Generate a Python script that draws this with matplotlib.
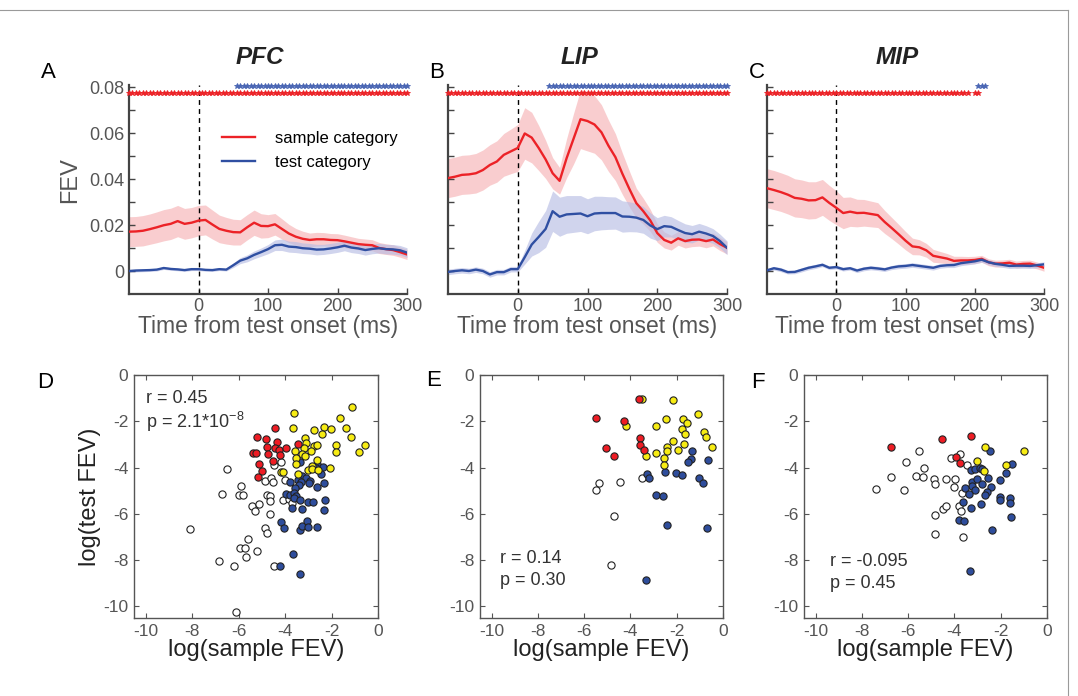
import numpy as np
import matplotlib
matplotlib.use('Agg')
import matplotlib.pyplot as plt
from matplotlib.lines import Line2D

plt.rcParams['font.family'] = ['Liberation Sans', 'DejaVu Sans']
plt.rcParams['mathtext.fontset'] = 'custom'
plt.rcParams['mathtext.rm'] = 'Liberation Sans'
plt.rcParams['mathtext.default'] = 'regular'

# ---------------- data: time courses (FEV) ----------------
time_ms = list(range(-100, 301, 10))

pfc_sample = [0.0171, 0.0172, 0.0175, 0.0182, 0.019, 0.0199, 0.0205, 0.0217, 0.0205, 0.021,
              0.0219, 0.0222, 0.0202, 0.0183, 0.0175, 0.0169, 0.0168, 0.019, 0.021, 0.0196,
              0.0195, 0.0203, 0.0183, 0.0163, 0.0149, 0.014, 0.0135, 0.0138, 0.0138, 0.0135,
              0.0134, 0.0129, 0.0123, 0.0117, 0.0114, 0.0112, 0.0100, 0.0095, 0.0091, 0.0082, 0.0072]
pfc_sample_sem = [0.0065, 0.0065, 0.0066, 0.0066, 0.0067, 0.0068, 0.0068, 0.0068, 0.0067, 0.0066,
                  0.0066, 0.0065, 0.0063, 0.006, 0.0058, 0.0056, 0.0055, 0.0055, 0.0055, 0.0053,
                  0.005, 0.0047, 0.0044, 0.004, 0.0036, 0.0033, 0.003, 0.003, 0.0029, 0.0028,
                  0.0028, 0.0027, 0.0026, 0.0025, 0.0025, 0.0024, 0.0024, 0.0023, 0.0023, 0.0022, 0.0022]
pfc_test = [0.0, 0.0002, 0.0003, 0.0004, 0.0006, 0.0013, 0.0009, 0.0007, 0.0004, 0.0008,
            0.0008, 0.0005, 0.0004, 0.0008, 0.0006, 0.0025, 0.0045, 0.0055, 0.007, 0.0082,
            0.0095, 0.0112, 0.0114, 0.0106, 0.0104, 0.0099, 0.0097, 0.0093, 0.0094, 0.0098,
            0.0103, 0.011, 0.0102, 0.0098, 0.0091, 0.0096, 0.0099, 0.0095, 0.0094, 0.009, 0.008]
pfc_test_sem = [0.0006, 0.0006, 0.0006, 0.0006, 0.0006, 0.0006, 0.0006, 0.0006, 0.0006, 0.0006,
                0.0006, 0.0006, 0.0006, 0.0006, 0.0006, 0.001, 0.0013, 0.0015, 0.0017, 0.0018,
                0.002, 0.0023, 0.0025, 0.0024, 0.0024, 0.0023, 0.0023, 0.0023, 0.0022, 0.0022,
                0.0022, 0.0022, 0.0022, 0.0022, 0.0022, 0.0021, 0.0021, 0.0021, 0.0021, 0.0021, 0.0021]

lip_sample = [0.0404, 0.041, 0.0418, 0.042, 0.0425, 0.0439, 0.0461, 0.0476, 0.0505, 0.052,
              0.0535, 0.0598, 0.058, 0.0535, 0.0485, 0.0425, 0.0392, 0.049, 0.0575, 0.066,
              0.0652, 0.0637, 0.0603, 0.0545, 0.0495, 0.0423, 0.0357, 0.0295, 0.026, 0.022,
              0.0165, 0.0135, 0.0123, 0.0142, 0.013, 0.0136, 0.0137, 0.013, 0.0137, 0.0117, 0.0101]
lip_sample_sem = [0.0085, 0.0085, 0.0085, 0.0085, 0.0086, 0.0087, 0.0088, 0.009, 0.0093, 0.0097,
                  0.0102, 0.0112, 0.011, 0.0098, 0.0083, 0.0068, 0.0058, 0.0085, 0.011, 0.0128,
                  0.013, 0.0125, 0.012, 0.0112, 0.0102, 0.009, 0.0078, 0.0065, 0.0056, 0.0048,
                  0.004, 0.0035, 0.0032, 0.003, 0.003, 0.003, 0.0029, 0.0029, 0.0028, 0.0028, 0.0027]
lip_test = [-0.0004, 0.0, 0.0003, 0.0, 0.0006, 0.0, -0.0015, -0.0005, -0.0005, 0.0008,
            0.0008, 0.006, 0.0115, 0.0148, 0.0183, 0.026, 0.0236, 0.0246, 0.0248, 0.025,
            0.0238, 0.025, 0.0252, 0.0252, 0.0252, 0.0237, 0.0236, 0.0232, 0.0222, 0.0198,
            0.0182, 0.0195, 0.0192, 0.0178, 0.0165, 0.016, 0.0171, 0.0163, 0.0152, 0.013, 0.0101]
lip_test_sem = [0.0012, 0.0012, 0.0012, 0.0012, 0.0012, 0.0012, 0.0012, 0.0012, 0.0012, 0.0012,
                0.0012, 0.003, 0.005, 0.0068, 0.008, 0.0088, 0.0085, 0.0082, 0.008, 0.0078,
                0.0076, 0.0075, 0.0073, 0.0071, 0.007, 0.0068, 0.0065, 0.0062, 0.0058, 0.0055,
                0.005, 0.0047, 0.0044, 0.0042, 0.004, 0.0038, 0.0036, 0.0034, 0.0032, 0.003, 0.003]

mip_sample = [0.036, 0.0352, 0.0343, 0.0332, 0.0318, 0.0314, 0.0307, 0.0308, 0.032, 0.0296,
              0.0275, 0.0252, 0.0258, 0.0252, 0.0253, 0.0248, 0.0243, 0.0213, 0.0187, 0.016,
              0.0132, 0.0107, 0.0103, 0.009, 0.0066, 0.006, 0.0054, 0.0044, 0.0046, 0.0046,
              0.0048, 0.0053, 0.0038, 0.0032, 0.0033, 0.0036, 0.0028, 0.0031, 0.0032, 0.0024, 0.0014]
mip_sample_sem = [0.0085, 0.0085, 0.0084, 0.0084, 0.0083, 0.0082, 0.0081, 0.008, 0.0078, 0.0076,
                  0.0074, 0.0068, 0.0064, 0.006, 0.0058, 0.0056, 0.0054, 0.005, 0.0046, 0.0043,
                  0.004, 0.0036, 0.0033, 0.003, 0.0028, 0.0025, 0.0022, 0.002, 0.0018, 0.0017,
                  0.0016, 0.0015, 0.0015, 0.0015, 0.0015, 0.0015, 0.0015, 0.0015, 0.0015, 0.0015, 0.0015]
mip_test = [0.0003, 0.0012, 0.0006, -0.0005, -0.0004, 0.0005, 0.0014, 0.002, 0.0027, 0.0014,
            0.0017, 0.0008, 0.0012, 0.0002, 0.001, 0.0014, 0.0011, 0.0007, 0.0015, 0.002,
            0.0022, 0.0026, 0.0022, 0.0018, 0.0014, 0.0022, 0.0025, 0.0026, 0.0034, 0.0038,
            0.0042, 0.0049, 0.0038, 0.0031, 0.0027, 0.0022, 0.0023, 0.0023, 0.0022, 0.0025, 0.0029]
mip_test_sem = [0.0008, 0.0008, 0.0009, 0.0008, 0.0008, 0.0009, 0.0009, 0.0009, 0.0008, 0.0008,
                0.0008, 0.0008, 0.0008, 0.0009, 0.0009, 0.0009, 0.0009, 0.0009, 0.0009, 0.001,
                0.001, 0.001, 0.001, 0.001, 0.001, 0.001, 0.001, 0.0011, 0.0011, 0.0011,
                0.0011, 0.0011, 0.0011, 0.0011, 0.0011, 0.0011, 0.0011, 0.0011, 0.0011, 0.0011, 0.0011]

# significance periods (ms, inclusive), marked every 5 ms
pfc_sample_sig = [(-100, 300)]
pfc_test_sig = [(55, 300)]
lip_sample_sig = [(-100, 300)]
lip_test_sig = [(45, 300)]
mip_sample_sig = [(-100, 190), (200, 205)]
mip_test_sig = [(205, 215)]

area_names = ['PFC', 'LIP', 'MIP']
top_letters = ['A', 'B', 'C']
bottom_letters = ['D', 'E', 'F']
legend_labels = ['sample category', 'test category']
ytick_values = [0, 0.01, 0.02, 0.03, 0.04, 0.05, 0.06, 0.07, 0.08]
xtick_values = [0, 100, 200, 300]
scatter_ticks = [-10, -8, -6, -4, -2, 0]

# ---------------- data: scatter (log FEV) ----------------
d_red_x = [-4.42, -5.19, -4.81, -4.33, -3.44, -4.78, -4.45, -4.26, -3.97, -5.39, -5.24, -4.75, -4.23, -4.52, -5.10, -5.00, -5.17]
d_red_y = [-2.30, -2.66, -2.78, -2.91, -2.99, -3.10, -3.14, -3.25, -3.17, -3.36, -3.36, -3.43, -3.46, -3.72, -3.84, -4.15, -4.42]
d_yel_x = [-3.61, -1.14, -1.63, -3.65, -2.76, -2.31, -2.03, -2.42, -1.37, -1.16, -3.16, -3.10, -2.76, -2.64, -1.81, -0.54, -3.17,
           -2.89, -3.58, -3.26, -3.12, -1.82, -0.80, -3.53, -2.64, -3.51, -2.83, -2.06, -4.19, -4.09, -3.00, -2.86, -2.60, -3.44]
d_yel_y = [-1.66, -1.37, -1.87, -2.30, -2.38, -2.23, -2.33, -2.55, -2.29, -2.69, -2.74, -2.95, -3.05, -3.03, -3.03, -3.03, -3.14,
           -3.28, -3.28, -3.43, -3.50, -3.34, -3.34, -3.57, -3.67, -3.86, -3.93, -4.00, -4.18, -4.18, -4.10, -4.07, -4.10, -4.29]
d_blu_x = [-3.36, -2.61, -2.38, -2.67, -2.44, -3.25, -3.08, -3.44, -2.93, -3.32, -3.80, -2.96, -2.32, -3.41, -3.58, -2.61, -3.97,
           -3.78, -3.60, -3.51, -3.60, -3.36, -3.00, -2.78, -2.28, -3.70, -3.26, -4.19, -4.04, -3.36, -3.26, -3.07, -3.01, -3.65,
           -4.23, -3.35, -2.34, -2.63]
d_blu_y = [-3.74, -3.86, -3.96, -4.03, -4.28, -4.36, -4.43, -4.54, -4.58, -4.64, -4.64, -4.68, -4.68, -4.75, -4.89, -4.85, -5.15,
           -5.18, -5.08, -5.21, -5.33, -5.40, -5.47, -5.50, -5.40, -5.73, -5.79, -6.35, -6.60, -6.70, -6.51, -6.33, -6.55, -7.73,
           -8.25, -8.61, -5.83, -6.55]
d_wht_x = [-6.49, -5.90, -6.71, -5.99, -5.82, -5.43, -5.14, -5.30, -4.66, -4.78, -4.66, -4.63, -4.85, -4.62, -4.52, -4.48, -4.19,
           -8.08, -4.88, -4.78, -5.61, -5.96, -5.74, -5.70, -5.19, -6.83, -6.21, -4.48, -6.13, -4.01, -4.09, -3.84, -3.68]
d_wht_y = [-4.07, -4.78, -5.14, -5.18, -5.20, -5.66, -5.57, -5.87, -6.00, -5.18, -5.23, -5.43, -4.56, -4.46, -4.62, -3.89, -3.74,
           -6.67, -6.62, -6.81, -7.07, -7.49, -7.49, -7.85, -7.59, -8.05, -8.25, -8.25, -10.22, -4.54, -5.40, -5.37, -5.51]

e_red_x = [-3.62, -5.50, -4.28, -3.57, -3.57, -3.43, -5.04, -4.71]
e_red_y = [-1.04, -1.87, -1.97, -2.73, -3.02, -3.24, -3.15, -3.50]
e_yel_x = [-3.50, -2.14, -4.17, -2.90, -2.47, -1.09, -1.71, -1.57, -1.79, -1.65, -0.83, -0.72, -2.17, -1.69, -2.40, -2.43,
           -1.96, -0.47, -2.89, -3.34, -2.54, -2.53]
e_yel_y = [-1.05, -1.08, -2.20, -2.20, -1.90, -1.68, -1.91, -2.09, -2.34, -2.56, -2.45, -2.69, -2.85, -2.99, -3.13, -3.27,
           -3.24, -3.13, -3.35, -3.52, -3.60, -3.91]
e_blu_x = [-1.36, -1.40, -1.50, -0.63, -3.29, -3.20, -2.50, -2.04, -1.79, -1.05, -0.87, -2.90, -2.59, -2.40, -0.67, -3.33]
e_blu_y = [-3.27, -3.63, -3.77, -3.67, -4.27, -4.46, -4.19, -4.22, -4.30, -4.46, -4.68, -5.17, -5.22, -6.49, -6.62, -8.85]
e_wht_x = [-5.36, -5.50, -4.44, -3.50, -4.69, -4.82]
e_wht_y = [-4.68, -4.96, -4.63, -4.46, -6.09, -8.23]

f_red_x = [-6.73, -4.52, -3.27, -3.92, -3.77]
f_red_y = [-3.12, -2.76, -2.62, -3.55, -3.81]
f_yel_x = [-2.69, -1.01, -3.03, -1.76, -2.74]
f_yel_y = [-3.12, -3.28, -3.70, -3.91, -4.16]
f_blu_x = [-2.48, -1.50, -1.79, -3.30, -3.10, -2.91, -2.79, -3.24, -3.03, -2.55, -2.01, -3.24, -2.79, -3.56, -3.10, -2.40,
           -3.39, -2.58, -2.69, -2.01, -2.01, -1.61, -1.61, -3.63, -3.30, -2.87, -1.54, -3.82, -3.59, -2.38, -3.31]
f_blu_y = [-3.27, -3.84, -4.22, -4.10, -4.07, -4.03, -4.07, -4.63, -4.50, -4.43, -4.53, -4.79, -4.72, -4.89, -4.96, -4.86,
           -5.14, -5.04, -5.18, -5.28, -5.39, -5.30, -5.51, -5.49, -5.73, -5.58, -6.14, -6.26, -6.29, -6.68, -8.47]
f_wht_x = [-7.41, -6.76, -6.20, -6.08, -5.55, -5.68, -5.36, -5.32, -4.89, -4.83, -4.38, -3.99, -4.03, -4.13, -3.77, -3.46,
           -3.66, -4.86, -4.50, -4.35, -3.80, -3.70, -4.84, -3.63]
f_wht_y = [-4.93, -4.39, -4.99, -3.78, -3.27, -4.35, -4.42, -4.03, -4.50, -4.70, -4.50, -4.50, -4.85, -3.60, -3.41, -3.91,
           -5.08, -6.04, -5.77, -5.65, -5.65, -5.87, -6.88, -6.98]

stats_r = ['r = 0.45', 'r = 0.14', 'r = -0.095']
stats_p = ['p = 2.1*10$^{-8}$', 'p = 0.30', 'p = 0.45']

# ---------------- style ----------------
RED = '#ec2227'
BLUE = '#2f4fa2'
RED_FILL = '#f7b9bb'
BLUE_FILL = '#b8bde4'
SC_RED = '#ee1c24'
SC_YEL = '#f7ec13'
SC_BLU = '#2e4d9c'
GREY_TXT = '#555555'
SPINE = '#444444'

W, H = 1078, 696
fig = plt.figure(figsize=(W / 100, H / 100), dpi=100)


def fx(px):
    return px / W


def fy(py):
    return 1 - py / H


# thin frame of the figure panel (top and right edges)
fig.add_artist(Line2D([0, fx(1068)], [fy(10), fy(10)], color='#9a9a9a', lw=0.8))
fig.add_artist(Line2D([fx(1068), fx(1068)], [fy(10), 0], color='#9a9a9a', lw=0.8))

top_boxes = [(129, 407), (448, 727), (767, 1044)]
top_y = (84.7, 294)
bot_boxes = [(134, 378), (480, 723), (804, 1047)]
bot_y = (375, 618)

series = [
    (pfc_sample, pfc_sample_sem, pfc_test, pfc_test_sem, pfc_sample_sig, pfc_test_sig),
    (lip_sample, lip_sample_sem, lip_test, lip_test_sem, lip_sample_sig, lip_test_sig),
    (mip_sample, mip_sample_sem, mip_test, mip_test_sem, mip_sample_sig, mip_test_sig),
]

t = np.array(time_ms)
for i, (x0, x1) in enumerate(top_boxes):
    ax = fig.add_axes([fx(x0), fy(top_y[1]), fx(x1 - x0), (top_y[1] - top_y[0]) / H])
    red, red_sem, blue, blue_sem, sig_r, sig_b = series[i]
    red = np.array(red); red_sem = np.array(red_sem)
    blue = np.array(blue); blue_sem = np.array(blue_sem)
    ax.fill_between(t, red - red_sem, red + red_sem, color=RED_FILL, alpha=0.7, lw=0, zorder=1)
    ax.fill_between(t, blue - blue_sem, blue + blue_sem, color=BLUE_FILL, alpha=0.65, lw=0, zorder=1)
    l1, = ax.plot(t, red, color=RED, lw=1.7, zorder=3)
    l2, = ax.plot(t, blue, color=BLUE, lw=1.7, zorder=3)
    ax.axvline(0, color='black', lw=1.0, ls=(0, (3.5, 3)), zorder=2)
    for (a, b) in sig_r:
        ts = np.arange(a, b + 1, 5)
        ax.plot(ts, np.full(len(ts), 0.0775), ls='none', marker='*', ms=4.0, mew=0.6,
                color=RED, clip_on=False, zorder=4)
    for (a, b) in sig_b:
        ts = np.arange(a, b + 1, 5)
        ax.plot(ts, np.full(len(ts), 0.0806), ls='none', marker='*', ms=4.0, mew=0.6,
                color='#4a66b4', clip_on=False, zorder=4)
    ax.set_xlim(-100, 300)
    ax.set_ylim(-0.01, 0.081)
    ax.set_xticks(xtick_values)
    ax.set_xticklabels([str(v) for v in xtick_values])
    ax.set_yticks(ytick_values)
    if i == 0:
        ax.set_yticklabels(['0' if v == 0 else ('%.2f' % v if round(v * 100) % 2 == 0 else '')
                            for v in ytick_values])
    else:
        ax.set_yticklabels([])
    for s in ['top', 'right']:
        ax.spines[s].set_visible(False)
    for s in ['left', 'bottom']:
        ax.spines[s].set_color(SPINE)
        ax.spines[s].set_linewidth(1.6)
    ax.tick_params(direction='in', length=4, width=1, colors=SPINE, labelsize=13,
                   labelcolor=GREY_TXT, pad=3)
    ax.set_xlabel('Time from test onset (ms)', fontsize=16.5, color=GREY_TXT, labelpad=0)
    if i == 0:
        ax.legend([l1, l2], legend_labels, loc='upper left', bbox_to_anchor=(0.31, 0.81),
                  frameon=False, fontsize=12, handlelength=2.0, handletextpad=1.2,
                  labelspacing=0.55, borderaxespad=0)
    fig.text(fx((x0 + x1) / 2 - 8), fy(57), area_names[i], fontsize=17.5, fontweight='bold',
             fontstyle='italic', ha='center', va='center', color='#222222')

fig.text(fx(70), fy(180), 'FEV', fontsize=17, rotation=90, ha='center', va='center', color=GREY_TXT)
for letter, (px, py) in zip(top_letters, [(48, 72), (437, 72), (757, 72)]):
    fig.text(fx(px), fy(py), letter, fontsize=16, ha='center', va='center', color='black')

scatter_sets = [
    [(d_wht_x, d_wht_y, 'white'), (d_blu_x, d_blu_y, SC_BLU), (d_yel_x, d_yel_y, SC_YEL), (d_red_x, d_red_y, SC_RED)],
    [(e_wht_x, e_wht_y, 'white'), (e_blu_x, e_blu_y, SC_BLU), (e_yel_x, e_yel_y, SC_YEL), (e_red_x, e_red_y, SC_RED)],
    [(f_wht_x, f_wht_y, 'white'), (f_blu_x, f_blu_y, SC_BLU), (f_yel_x, f_yel_y, SC_YEL), (f_red_x, f_red_y, SC_RED)],
]
stats_pos = [((0.05, 0.905), (0.05, 0.808)), ((0.082, 0.243), (0.082, 0.156)), ((0.107, 0.232), (0.107, 0.144))]

for i, (x0, x1) in enumerate(bot_boxes):
    ax = fig.add_axes([fx(x0), fy(bot_y[1]), fx(x1 - x0), (bot_y[1] - bot_y[0]) / H])
    for xs, ys, col in scatter_sets[i]:
        ax.scatter(xs, ys, s=27, facecolor=col, edgecolor='#222222', linewidth=0.8, zorder=3)
    ax.set_xlim(-10.5, 0)
    ax.set_ylim(-10.5, 0)
    ax.set_xticks(scatter_ticks)
    ax.set_yticks(scatter_ticks)
    ax.set_xticklabels([str(v) for v in scatter_ticks])
    ax.set_yticklabels([str(v) for v in scatter_ticks])
    for s in ax.spines.values():
        s.set_color('#555555')
        s.set_linewidth(1.0)
    ax.tick_params(direction='in', length=3.5, width=0.8, colors='#555555', labelsize=12.5,
                   labelcolor=GREY_TXT, top=True, right=True, pad=4)
    ax.set_xlabel('log(sample FEV)', fontsize=17, color='#222222', labelpad=0)
    if i == 0:
        ax.set_ylabel('log(test FEV)', fontsize=17, color='#222222', labelpad=2)
    (rx, ry), (qx, qy) = stats_pos[i]
    ax.text(rx, ry, stats_r[i], transform=ax.transAxes, fontsize=13, va='center', ha='left', color='#333333')
    ax.text(qx, qy, stats_p[i], transform=ax.transAxes, fontsize=13, va='center', ha='left', color='#333333')

for letter, (px, py) in zip(bottom_letters, [(45, 382), (434, 380), (758, 382)]):
    fig.text(fx(px), fy(py), letter, fontsize=16, ha='center', va='center', color='black')

fig.savefig('out.png', dpi=100)
